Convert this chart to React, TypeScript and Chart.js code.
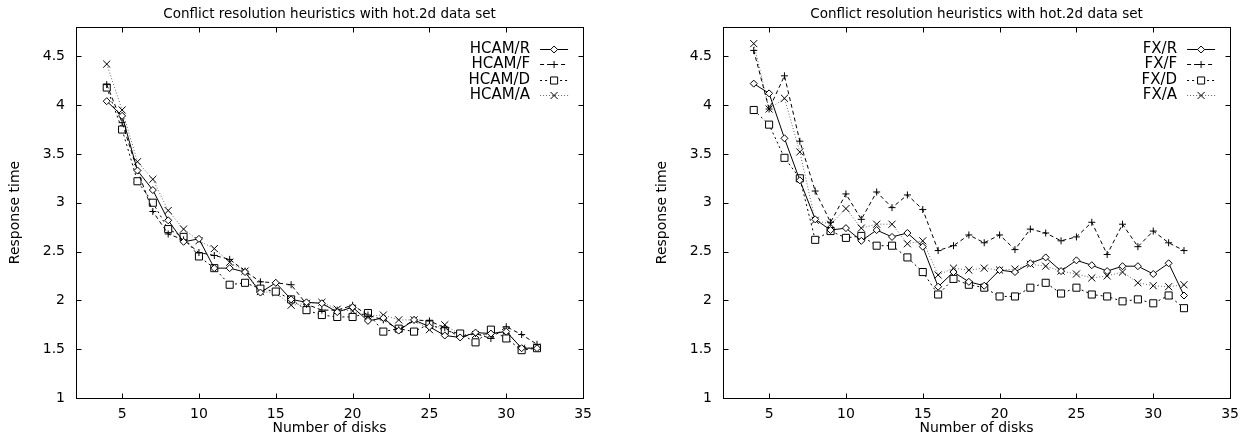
import React, { useEffect, useRef } from 'react';
import { Chart, registerables } from 'chart.js';

Chart.register(...registerables);

// ---------------- data ----------------
const disks = [4, 5, 6, 7, 8, 9, 10, 11, 12, 13, 14, 15, 16, 17, 18, 19, 20, 21, 22, 23, 24, 25, 26, 27, 28, 29, 30, 31, 32];

const hcamR = [4.04, 3.89, 3.33, 3.13, 2.82, 2.60, 2.63, 2.33, 2.33, 2.29, 2.08, 2.18, 2.01, 1.98, 1.97, 1.88, 1.93, 1.79, 1.82, 1.69, 1.80, 1.73, 1.64, 1.62, 1.67, 1.66, 1.68, 1.51, 1.51];
const hcamF = [4.21, 3.82, 3.33, 2.91, 2.68, 2.62, 2.49, 2.46, 2.42, 2.30, 2.19, 2.18, 2.16, 1.96, 1.90, 1.90, 1.95, 1.85, 1.80, 1.70, 1.80, 1.79, 1.72, 1.62, 1.66, 1.61, 1.73, 1.65, 1.55];
const hcamD = [4.18, 3.75, 3.22, 3.00, 2.73, 2.65, 2.45, 2.33, 2.16, 2.18, 2.12, 2.09, 2.01, 1.90, 1.85, 1.83, 1.83, 1.87, 1.68, 1.71, 1.68, 1.76, 1.69, 1.66, 1.57, 1.70, 1.61, 1.49, 1.51];
const hcamA = [4.42, 3.95, 3.42, 3.24, 2.92, 2.73, 2.61, 2.53, 2.39, 2.30, 2.09, 2.08, 1.95, 1.97, 1.98, 1.91, 1.89, 1.84, 1.85, 1.80, 1.80, 1.70, 1.75, 1.65, 1.65, 1.65, 1.69, 1.51, 1.52];

const fxR = [4.22, 4.12, 3.66, 3.23, 2.83, 2.72, 2.74, 2.61, 2.72, 2.65, 2.69, 2.55, 2.14, 2.29, 2.19, 2.15, 2.31, 2.29, 2.38, 2.44, 2.30, 2.41, 2.36, 2.30, 2.35, 2.35, 2.27, 2.38, 2.05];
const fxF = [4.56, 3.96, 4.30, 3.63, 3.12, 2.80, 3.09, 2.83, 3.11, 2.95, 3.08, 2.93, 2.51, 2.56, 2.67, 2.59, 2.67, 2.52, 2.73, 2.69, 2.61, 2.65, 2.80, 2.47, 2.78, 2.55, 2.71, 2.59, 2.51];
const fxD = [3.95, 3.80, 3.46, 3.25, 2.62, 2.71, 2.64, 2.66, 2.56, 2.56, 2.44, 2.29, 2.06, 2.22, 2.16, 2.13, 2.04, 2.04, 2.13, 2.18, 2.07, 2.13, 2.06, 2.04, 1.99, 2.01, 1.97, 2.05, 1.92];
const fxA = [4.63, 3.96, 4.07, 3.52, 2.82, 2.78, 2.94, 2.74, 2.78, 2.78, 2.58, 2.61, 2.26, 2.33, 2.31, 2.33, 2.31, 2.32, 2.37, 2.35, 2.30, 2.27, 2.23, 2.25, 2.29, 2.18, 2.15, 2.14, 2.16];

const hcamLabels = ['HCAM/R', 'HCAM/F', 'HCAM/D', 'HCAM/A'];
const fxLabels = ['FX/R', 'FX/F', 'FX/D', 'FX/A'];

const xTickValues = [5, 10, 15, 20, 25, 30, 35];
const yTickValues = [1, 1.5, 2, 2.5, 3, 3.5, 4, 4.5];
const xMin = 2;
const xMax = 35;
const yMin = 1;
const yMax = 4.8;

const chartTitle = 'Conflict resolution heuristics with hot.2d data set';
const xTitle = 'Number of disks';
const yTitle = 'Response time';

// ---------------- styles ----------------
const FONT = '"DejaVu Sans", sans-serif';
const FONT_SIZE = 14;
const TITLE_SIZE = 13.5;
const LEGEND_SIZE = 15;

type SeriesStyle = { dash: number[]; color: string; point: string; radius: number };
const seriesStyles: SeriesStyle[] = [
  { dash: [], color: '#000', point: 'rectRot', radius: 3.5 },
  { dash: [4, 3], color: '#000', point: 'cross', radius: 3.5 },
  { dash: [2, 3], color: '#000', point: 'rect', radius: 5 },
  { dash: [1, 2], color: '#666', point: 'crossRot', radius: 5 },
];

function drawMarker(ctx: CanvasRenderingContext2D, kind: string, r: number, x: number, y: number) {
  ctx.save();
  ctx.setLineDash([]);
  ctx.strokeStyle = '#000';
  ctx.fillStyle = '#fff';
  ctx.lineWidth = 1;
  ctx.beginPath();
  if (kind === 'rectRot') {
    ctx.moveTo(x, y - r);
    ctx.lineTo(x + r, y);
    ctx.lineTo(x, y + r);
    ctx.lineTo(x - r, y);
    ctx.closePath();
    ctx.fill();
    ctx.stroke();
  } else if (kind === 'rect') {
    const s = r * Math.SQRT1_2;
    ctx.rect(x - s, y - s, 2 * s, 2 * s);
    ctx.fill();
    ctx.stroke();
  } else if (kind === 'cross') {
    ctx.moveTo(x - r, y);
    ctx.lineTo(x + r, y);
    ctx.moveTo(x, y - r);
    ctx.lineTo(x, y + r);
    ctx.stroke();
  } else {
    const d = r * Math.SQRT1_2;
    ctx.moveTo(x - d, y - d);
    ctx.lineTo(x + d, y + d);
    ctx.moveTo(x + d, y - d);
    ctx.lineTo(x - d, y + d);
    ctx.stroke();
  }
  ctx.restore();
}

const gnuplotPlugin = {
  id: 'gnuplotDecor',
  afterDraw(chart: any) {
    const ctx: CanvasRenderingContext2D = chart.ctx;
    const { left, right, top, bottom } = chart.chartArea;
    const xs = chart.scales.x;
    const ys = chart.scales.y;
    ctx.save();
    // frame
    ctx.strokeStyle = '#000';
    ctx.lineWidth = 1;
    ctx.setLineDash([]);
    const L = Math.round(left) + 0.5;
    const R = Math.round(right) + 0.5;
    const T = Math.round(top) + 0.5;
    const B = Math.round(bottom) + 0.5;
    ctx.strokeRect(L, T, R - L, B - T);
    // inward ticks on all four sides
    const tl = 5;
    ctx.beginPath();
    xTickValues.forEach((v) => {
      const px = Math.round(xs.getPixelForValue(v)) + 0.5;
      ctx.moveTo(px, B);
      ctx.lineTo(px, B - tl);
      ctx.moveTo(px, T);
      ctx.lineTo(px, T + tl);
    });
    yTickValues.forEach((v) => {
      const py = Math.round(ys.getPixelForValue(v)) + 0.5;
      ctx.moveTo(L, py);
      ctx.lineTo(L + tl, py);
      ctx.moveTo(R, py);
      ctx.lineTo(R - tl, py);
    });
    ctx.stroke();

    // title
    ctx.fillStyle = '#000';
    ctx.font = `${TITLE_SIZE}px ${FONT}`;
    ctx.textAlign = 'center';
    ctx.textBaseline = 'middle';
    ctx.fillText(chart.options.plugins.gnuplotDecor.title, (left + right) / 2, 14);

    // legend (gnuplot style: text right-aligned, then sample)
    ctx.font = `${LEGEND_SIZE}px ${FONT}`;
    const names: string[] = chart.data.datasets.map((d: any) => d.label);
    names.forEach((name, i) => {
      const y = top + 22 + 15.4 * i;
      ctx.fillStyle = '#000';
      ctx.textAlign = 'right';
      ctx.textBaseline = 'middle';
      ctx.fillText(name, right - 53, y);
      const st = seriesStyles[i];
      ctx.save();
      ctx.strokeStyle = st.color;
      ctx.lineWidth = 1;
      ctx.setLineDash(st.dash);
      ctx.beginPath();
      ctx.moveTo(right - 43, Math.round(y) + 0.5);
      ctx.lineTo(right - 15, Math.round(y) + 0.5);
      ctx.stroke();
      ctx.restore();
      drawMarker(ctx, st.point, st.radius, right - 29, Math.round(y) + 0.5);
    });
    ctx.restore();
  },
};

function buildConfig(labels: string[], series: number[][]): any {
  return {
    type: 'line',
    data: {
      datasets: series.map((vals, i) => {
        const st = seriesStyles[i];
        return {
          label: labels[i],
          data: disks.map((d, j) => ({ x: d, y: vals[j] })),
          borderColor: st.color,
          borderWidth: 1,
          borderDash: st.dash,
          fill: false,
          tension: 0,
          pointStyle: st.point,
          pointRadius: st.radius,
          pointBorderColor: '#000',
          pointBackgroundColor: '#fff',
          pointBorderWidth: 1,
        };
      }),
    },
    options: {
      responsive: false,
      animation: false,
      devicePixelRatio: 1,
      layout: { padding: { top: 27, right: 16, left: 0, bottom: 0 } },
      plugins: {
        legend: { display: false },
        title: { display: false },
        tooltip: { enabled: false },
        gnuplotDecor: { title: chartTitle },
      },
      scales: {
        x: {
          type: 'linear',
          min: xMin,
          max: xMax,
          afterBuildTicks: (s: any) => {
            s.ticks = xTickValues.map((v) => ({ value: v }));
          },
          afterFit: (s: any) => {
            s.height = 41;
          },
          grid: { display: false, drawTicks: false },
          border: { display: false },
          ticks: {
            padding: 8,
            color: '#000',
            font: { family: FONT, size: FONT_SIZE },
            maxRotation: 0,
            autoSkip: false,
            callback: (v: any) => String(v),
          },
          title: {
            display: true,
            text: xTitle,
            color: '#000',
            font: { family: FONT, size: FONT_SIZE },
            padding: { top: 2, bottom: 2 },
          },
        },
        y: {
          type: 'linear',
          min: yMin,
          max: yMax,
          afterBuildTicks: (s: any) => {
            s.ticks = yTickValues.map((v) => ({ value: v }));
          },
          afterFit: (s: any) => {
            s.width = 76;
          },
          grid: { display: false, drawTicks: false },
          border: { display: false },
          ticks: {
            padding: 11,
            color: '#000',
            font: { family: FONT, size: FONT_SIZE },
            autoSkip: false,
            callback: (v: any) => String(v),
          },
          title: {
            display: true,
            text: yTitle,
            color: '#000',
            font: { family: FONT, size: FONT_SIZE },
            padding: { top: 7, bottom: 7 },
          },
        },
      },
    },
    plugins: [gnuplotPlugin],
  };
}

function Plot({ labels, series, left }: { labels: string[]; series: number[][]; left: number }) {
  const ref = useRef<HTMLCanvasElement | null>(null);
  useEffect(() => {
    if (!ref.current) return;
    const chart = new Chart(ref.current, buildConfig(labels, series));
    return () => chart.destroy();
  }, []);
  return (
    <canvas
      ref={ref}
      width={600}
      height={439}
      style={{ position: 'absolute', left, top: 0, width: 600, height: 439 }}
    />
  );
}

export default function App() {
  return (
    <div style={{ position: 'absolute', left: 0, top: 0, width: 1247, height: 439, background: '#fff' }}>
      <Plot labels={hcamLabels} series={[hcamR, hcamF, hcamD, hcamA]} left={0} />
      <Plot labels={fxLabels} series={[fxR, fxF, fxD, fxA]} left={647} />
    </div>
  );
}
